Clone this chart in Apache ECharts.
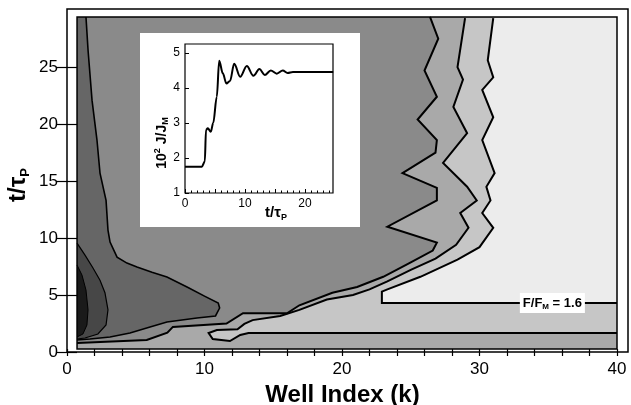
<!DOCTYPE html>
<html>
<head>
<meta charset="utf-8">
<script src="https://cdn.jsdelivr.net/npm/echarts@6/dist/echarts.min.js"></script>
<style>
  html, body { margin: 0; padding: 0; background: #fff; }
  #main { width: 631px; height: 405px; }
</style>
</head>
<body>
<div id="main"></div>
<script>
// contour lines, points are [k, t/tau_P]
const line1 = [[26.4,29.4],[27.0,27.5],[26.0,24.7],[26.9,22.4],[25.5,20.4],[26.9,18.6],[26.8,17.5],[24.4,15.7],
  [26.9,14.4],[26.9,13.3],[23.3,11.0],[26.9,9.6],[26.6,8.9],[24.9,7.8],[23.0,6.6],[21.1,5.7],[19.3,5.2],
  [16.9,4.1],[16.0,3.4],[12.8,3.4],[11.6,2.5],[7.7,2.2],[7.3,1.7],[5.8,1.05],[0.73,0.8]]
const line2 = [[28.95,29.3],[28.4,25.0],[28.8,23.9],[28.1,21.5],[29.1,19.2],[27.35,16.6],[29.1,14.5],[29.8,13.3],
  [28.6,12.2],[29.2,10.9],[28.3,9.4],[26.8,8.2],[25.0,7.2],[23.3,6.2],[22.0,5.5],[20.8,5.0],[18.9,4.6],
  [16.9,3.7],[15.5,3.16],[13.5,2.8],[12.9,2.46],[12.4,2.0],[10.9,1.93],[10.3,1.67],[10.6,1.14],[11.85,0.96],
  [12.6,1.5],[13.2,1.67],[40,1.67]]
const line3 = [[31.0,29.3],[30.6,25.6],[31.0,24.1],[30.2,23.0],[31.0,20.6],[30.2,18.6],[31.1,15.7],[30.5,14.5],
  [30.8,13.3],[30.2,12.2],[31.0,10.9],[30.0,9.2],[28.4,8.1],[25.7,6.6],[23.3,5.5],[22.9,5.3],[22.9,4.3],[40,4.3]]
const lineD = [[1.38,29.4],[1.53,26.5],[1.82,22.1],[2.18,18.6],[2.4,15.7],[2.84,13.3],[2.98,10.7],[3.13,9.65],
  [3.64,8.33],[4.36,7.8],[5.09,7.46],[6.18,7.0],[7.27,6.58],[8.73,5.7],[10.0,4.9],[11.0,4.3],[11.1,3.86],
  [10.8,3.16],[9.45,2.98],[7.27,2.63],[6.04,2.19],[4.58,1.67],[3.13,1.32],[1.67,1.14],[0.73,1.05]]
const lineE = [[0.73,9.56],[1.31,8.5],[1.89,7.37],[2.4,6.3],[2.76,5.2],[2.98,3.7],[2.84,2.37],[2.25,1.58],
  [1.31,1.23],[0.73,1.14]]
const blob = [[0.73,7.63],[1.09,6.75],[1.38,5.44],[1.53,3.7],[1.45,2.37],[1.16,1.58],[0.73,1.32]]

// inset: 10^2 J/J_M against t/tau_P
const insetT = [0, 2.8, 3.3, 3.5, 3.8, 4.3, 4.7, 5.3, 5.7, 6.3, 6.9, 7.5, 8.2, 9.2, 10.3, 11.4, 12.4, 13.3, 14.3, 15.3, 16.3, 17.1, 18, 24.7]
const insetJ = [1.75, 1.75, 1.9, 2.8, 2.85, 2.75, 3.0, 3.75, 4.78, 4.42, 4.13, 4.2, 4.69, 4.32, 4.63, 4.35, 4.54, 4.37, 4.5, 4.41, 4.5, 4.43, 4.46, 4.46]

// tick marks and labels
const xTickMarks = [0, 2, 4, 6, 8, 10, 12, 14, 16, 18, 20, 22, 24, 26, 28, 30, 32, 34, 36, 38, 40]
const xTicks = [0, 10, 20, 30, 40]
const yTicks = [0, 5, 10, 15, 20, 25]
const insetXTicks = [0, 10, 20]
const insetXMarks = [0, 5, 10, 15, 20]
const insetYTicks = [1, 2, 3, 4, 5]

// data box of the contour map
const kMin = 0.73, kMax = 40, tMin = 0.26, tMax = 29.4
const shades = ['#1a1a1a', '#474747', '#666666', '#8a8a8a', '#a9a9a9', '#c6c6c6', '#ececec']
const FONT = '"Liberation Sans", Arial, sans-serif'

function renderMap(params, api) {
  const pts = arr => arr.map(p => api.coord(p))
  const poly = (arr, fill) => ({ type: 'polygon', shape: { points: pts(arr) }, style: { fill: fill } })
  const pl = (arr, w) => ({ type: 'polyline', shape: { points: pts(arr) }, style: { stroke: '#000', lineWidth: w, fill: null } })
  const box = [[kMin, tMin], [kMax, tMin], [kMax, tMax], [kMin, tMax]]
  const lab = api.coord([35.3, 4.3])
  return {
    type: 'group',
    children: [
      poly(box, shades[3]),
      poly(line1.concat([[kMin, tMin], [kMax, tMin], [kMax, tMax]]), shades[4]),
      poly(line2.concat([[kMax, tMax]]), shades[5]),
      poly(line3.concat([[kMax, tMax]]), shades[6]),
      poly(lineD.concat([[kMin, tMax]]), shades[2]),
      poly(lineE, shades[1]),
      poly(blob, shades[0]),
      pl(line1, 2), pl(line2, 2), pl(line3, 2),
      pl(lineD, 1.6), pl(lineE, 1.2), pl(blob, 1),
      { type: 'polygon', shape: { points: pts(box) }, style: { fill: null, stroke: '#000', lineWidth: 1.5 } },
      {
        type: 'text', x: lab[0], y: lab[1],
        style: {
          text: '{a|F/F}{s|M}{a| = 1.6}', align: 'center', verticalAlign: 'middle',
          backgroundColor: '#fff', padding: [2, 3, 2, 3],
          rich: {
            a: { fontSize: 13, fontWeight: 'bold', fontFamily: FONT, fill: '#000', lineHeight: 16 },
            s: { fontSize: 8, fontWeight: 'bold', fontFamily: FONT, fill: '#000', verticalAlign: 'bottom', lineHeight: 16, padding: [6, 0, 0, 0] }
          }
        }
      }
    ]
  }
}

const chart = echarts.init(document.getElementById('main'))
const tickStyle = { color: '#000', width: 1.2 }
const labStyle = { fontSize: 17, fontFamily: FONT, color: '#000', margin: 9 }

chart.setOption({
  animation: false,
  grid: [
    { left: 67, top: 9, right: 3, bottom: 53, outerBoundsMode: 'none', containLabel: false,
      show: true, borderColor: '#000', borderWidth: 1.5, backgroundColor: 'transparent', z: 10 },
    { left: 185, top: 44, width: 148, height: 149, outerBoundsMode: 'none', containLabel: false,
      show: true, borderColor: '#000', borderWidth: 1.2, z: 10 }
  ],
  graphic: [
    { type: 'rect', shape: { x: 140, y: 33, width: 220, height: 194 }, style: { fill: '#fff' }, z: 5 },
    {
      type: 'text', x: 18, y: 185, rotation: Math.PI / 2, z: 10,
      style: {
        text: '{a|t/τ}{s|P}', align: 'center', verticalAlign: 'middle',
        rich: {
          a: { fontSize: 24, fontWeight: 'bold', fontFamily: FONT, fill: '#000', lineHeight: 27 },
          s: { fontSize: 13, fontWeight: 'bold', fontFamily: FONT, fill: '#000', verticalAlign: 'bottom', lineHeight: 27, padding: [10, 0, 0, 0] }
        }
      }
    },
    {
      type: 'text', x: 162, y: 143, rotation: Math.PI / 2, z: 12,
      style: {
        text: '{a|10}{p|2}{a| J/J}{s|M}', align: 'center', verticalAlign: 'middle',
        rich: {
          a: { fontSize: 14, fontWeight: 'bold', fontFamily: FONT, fill: '#000', lineHeight: 17 },
          p: { fontSize: 9, fontWeight: 'bold', fontFamily: FONT, fill: '#000', verticalAlign: 'top', lineHeight: 17, padding: [0, 0, 6, 0] },
          s: { fontSize: 9, fontWeight: 'bold', fontFamily: FONT, fill: '#000', verticalAlign: 'bottom', lineHeight: 17, padding: [6, 0, 0, 0] }
        }
      }
    },
    {
      type: 'text', x: 276, y: 213, z: 12,
      style: {
        text: '{a|t/τ}{s|P}', align: 'center', verticalAlign: 'middle',
        rich: {
          a: { fontSize: 15, fontWeight: 'bold', fontFamily: FONT, fill: '#000', lineHeight: 18 },
          s: { fontSize: 9, fontWeight: 'bold', fontFamily: FONT, fill: '#000', verticalAlign: 'bottom', lineHeight: 18, padding: [6, 0, 0, 0] }
        }
      }
    }
  ],
  xAxis: [
    {
      gridIndex: 0, type: 'value', min: 0, max: 40.8, z: 10,
      name: 'Well Index (k)', nameLocation: 'middle', nameGap: 16,
      nameTextStyle: { fontSize: 24, fontWeight: 'bold', fontFamily: FONT, color: '#000', padding: [0, 0, 0, -10] },
      axisLine: { show: false }, splitLine: { show: false },
      axisTick: { inside: true, length: 3, customValues: xTickMarks, lineStyle: tickStyle },
      axisLabel: Object.assign({ customValues: xTicks }, labStyle)
    },
    {
      gridIndex: 0, type: 'value', position: 'top', min: 0, max: 40.8, z: 10,
      axisLine: { show: false }, splitLine: { show: false },
      axisTick: { inside: true, length: 4, customValues: xTickMarks, lineStyle: tickStyle },
      axisLabel: { show: false }
    },
    {
      gridIndex: 1, type: 'value', min: 0, max: 24.67, interval: 5, z: 12,
      axisLine: { show: false }, splitLine: { show: false },
      axisTick: { inside: true, length: 4, customValues: insetXMarks, lineStyle: { color: '#000' } },
      minorTick: { show: true, splitNumber: 5, length: 2.5, lineStyle: { color: '#000' } },
      axisLabel: { customValues: insetXTicks, fontSize: 12, fontFamily: FONT, color: '#000', margin: 5 }
    }
  ],
  yAxis: [
    {
      gridIndex: 0, type: 'value', min: 0, max: 30.1, z: 10,
      axisLine: { show: false }, splitLine: { show: false },
      axisTick: { inside: true, length: 10, customValues: yTicks, lineStyle: tickStyle },
      axisLabel: Object.assign({ customValues: yTicks }, labStyle)
    },
    {
      gridIndex: 0, type: 'value', position: 'right', min: 0, max: 30.1, z: 10,
      axisLine: { show: false }, splitLine: { show: false },
      axisTick: { inside: true, length: 11, customValues: yTicks, lineStyle: tickStyle },
      axisLabel: { show: false }
    },
    {
      gridIndex: 1, type: 'value', min: 1, max: 5.257, z: 12,
      axisLine: { show: false }, splitLine: { show: false },
      axisTick: { inside: true, length: 4, customValues: insetYTicks, lineStyle: { color: '#000' } },
      axisLabel: { customValues: insetYTicks, fontSize: 12, fontFamily: FONT, color: '#000', margin: 5 }
    }
  ],
  series: [
    {
      type: 'custom', xAxisIndex: 0, yAxisIndex: 0, z: 2,
      renderItem: renderMap, data: [0], silent: true
    },
    {
      type: 'line', xAxisIndex: 2, yAxisIndex: 2, z: 14,
      data: insetT.map((t, i) => [t, insetJ[i]]),
      smooth: 0.35, smoothMonotone: 'x', symbol: 'none',
      lineStyle: { color: '#000', width: 2 }
    }
  ]
})
</script>
</body>
</html>
